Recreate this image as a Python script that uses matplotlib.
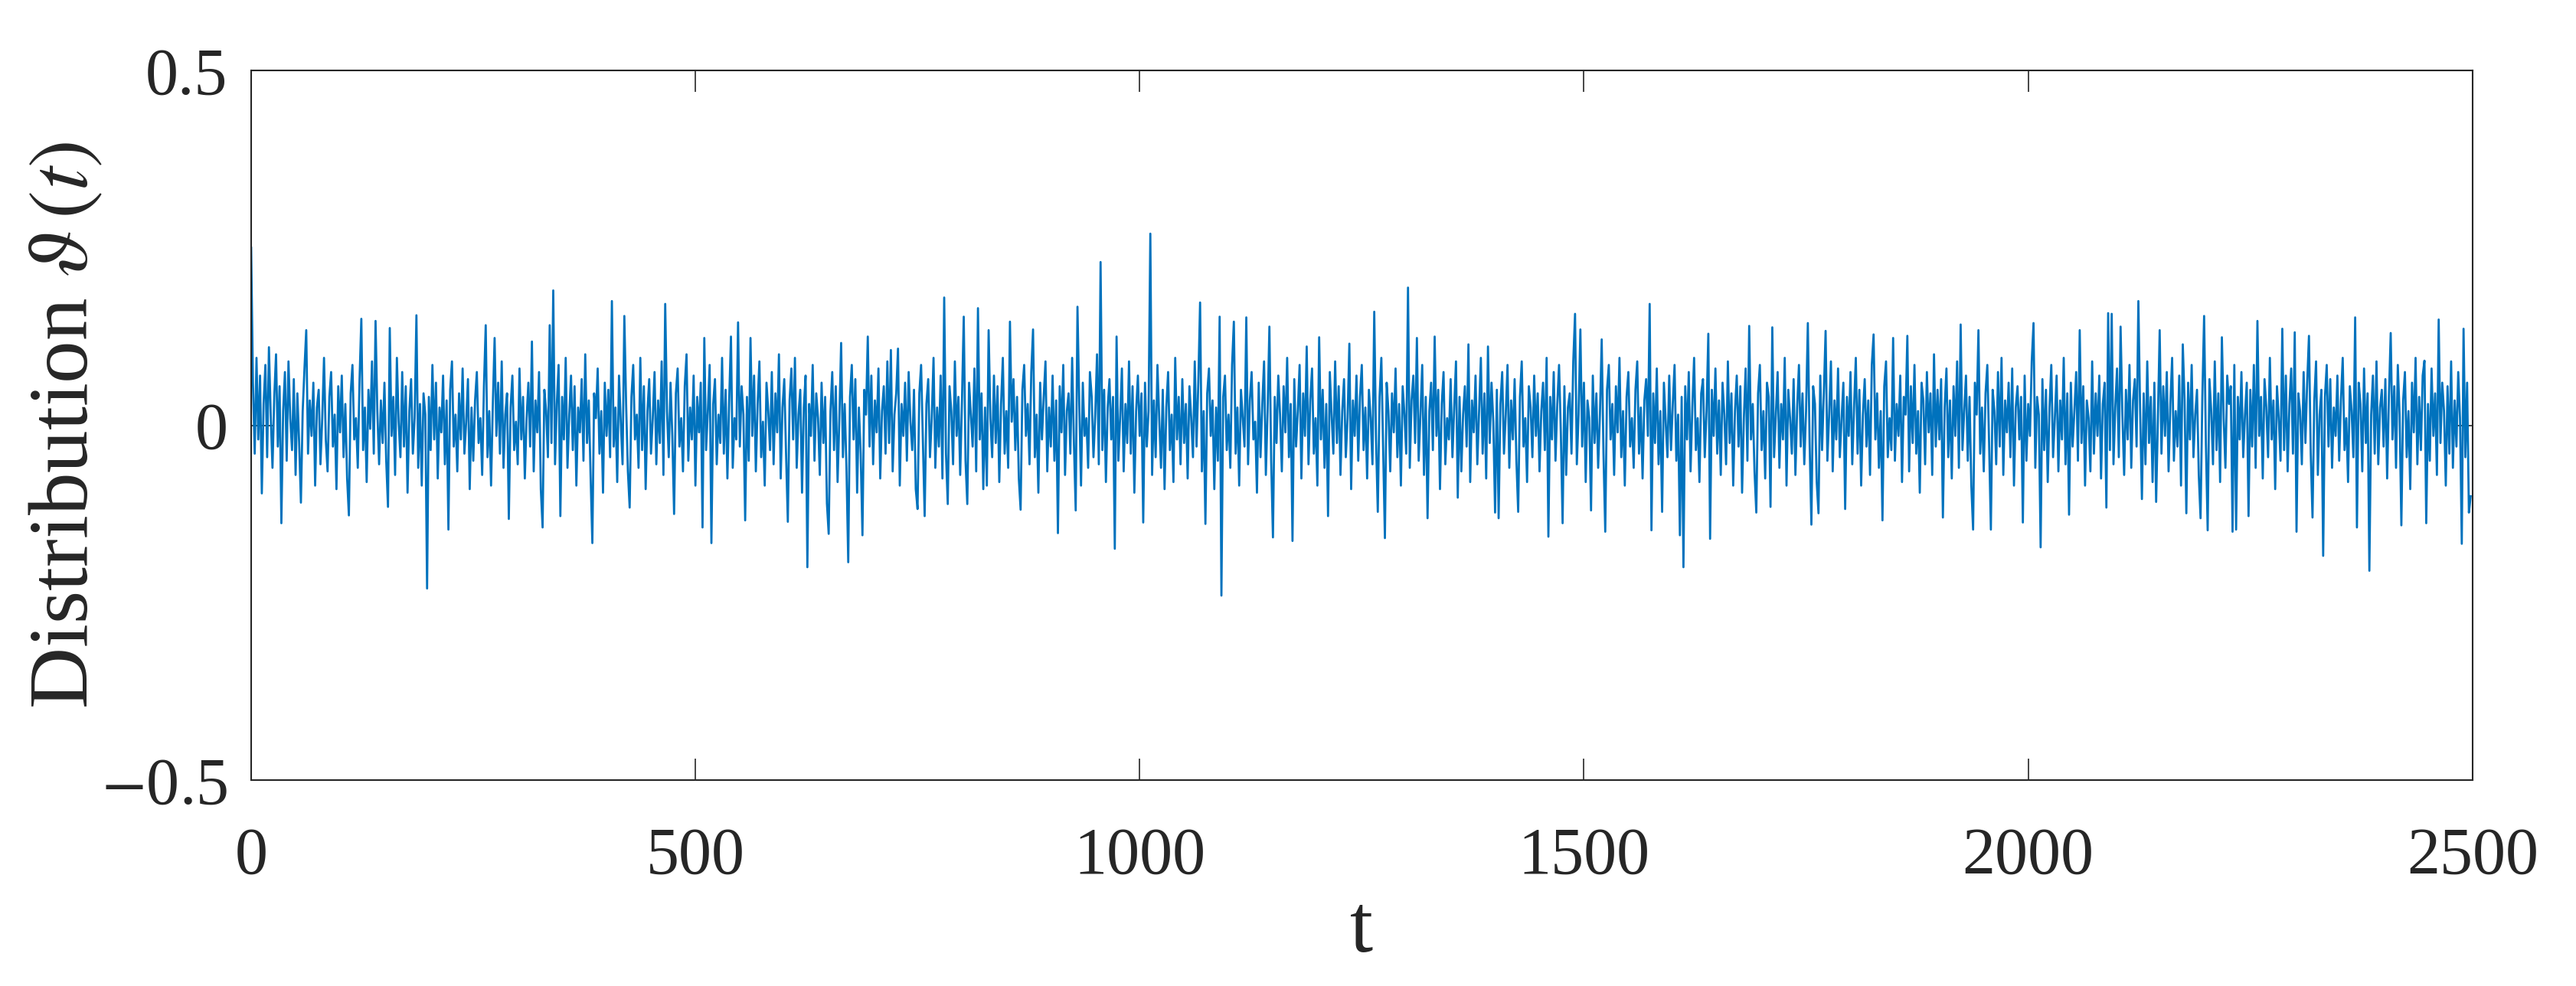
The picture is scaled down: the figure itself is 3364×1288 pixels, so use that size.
import numpy as np
import matplotlib
matplotlib.use("Agg")
import matplotlib.pyplot as plt

theta_milli = [
    250, 60, -40, 95, -20, 70, -96, 30, 85, -45, 110, 15, -60, 40, 100, -30, 55, -138, 20, 75, -50, 90, 10, -35, 65,
    -70, 45, -25, -109, 20, 80, 134, -40, 35, -15, 60, -85, 25, 50, -55, 10, 95, -20, -65, 40, 75, -30, 15, -90, 55,
    -10, 70, -45, 30, -75, -127, 45, 85, -20, 10, -60, 65, 150, -35, 25, -80, 50, -5, 90, -40, 147, 20, -55, 35, -25,
    60, -50, -115, 137, -15, 40, -70, 95, 5, -45, 75, -30, 55, -95, 20, 65, -40, 10, 155, -60, 30, -85, 45, 15, -230,
    40, -35, 85, -20, 60, -75, 25, -10, 70, -55, 35, -147, 50, 90, -30, 15, -65, 45, -20, 80, -40, 5, 65, -90, 25,
    -50, 35, 75, -25, 10, -70, 55, 141, -45, 20, -85, 30, 123, -15, 60, -40, 90, -60, 15, 45, -132, 25, 70, -35, 5,
    -55, 80, -20, 40, -75, 10, 60, -30, 118, -65, 35, -10, 75, -90, -144, 50, 20, -45, 141, -25, 190, -55, 30, 85, -128,
    40, -20, 95, -60, 15, 70, -35, 55, -85, 25, -10, 65, -50, 100, -25, 35, -70, -166, 45, 10, 80, -40, 20, -95, 60,
    -15, 50, -45, 175, -30, 25, -80, 70, 5, -55, 154, 30, -65, -116, 40, 85, -20, 15, -60, 95, -35, 55, -90, 20, 65,
    -40, 10, 75, -55, 35, -25, 90, -70, 171, 20, -45, 60, -15, -125, 45, 80, -30, 10, -65, 55, 100, -50, 25, -20, 70,
    -85, 40, -10, 60, -144, 123, -35, 20, 85, -166, 30, 65, -55, 15, -25, 95, -40, 50, -75, 35, 125, -60, 10, -20, 145,
    -30, 55, 15, -134, 40, -50, 123, -15, 70, -65, 30, 90, -45, 5, -85, 60, 20, -35, 75, -55, 45, -10, 100, -75, 25,
    65, -40, -136, 35, 80, -20, 95, -60, 15, 50, -95, 25, 70, -200, 30, -15, 85, -50, 45, 10, -70, 60, -25, 40, -110,
    -153, 20, 75, -35, 55, -80, 10, 116, -45, 30, -60, -193, 40, 85, -20, 65, -95, 25, -40, -155, 50, 15, 125, -30, 70,
    -55, 35, -10, 80, -75, 20, 55, -40, 90, -25, 106, -65, 15, 45, 108, -85, 30, -15, 60, -50, 75, 5, -35, 50, -90,
    -118, 45, 85, -20, -128, 30, 65, -45, 10, 95, -60, 25, -30, 70, -75, 180, -40, -111, 55, 20, -55, 90, -15, 40, -70,
    35, 153, -50, -111, 60, 15, -30, 80, -65, 165, -20, 45, -90, 25, -85, 134, 10, -45, 70, -25, 55, -80, 30, 95, -40,
    20, -60, 146, 5, 65, -35, 40, -75, -119, 50, 85, -15, 30, -55, 75, 135, -45, 15, -95, 60, -20, 40, 90, -65, 25,
    -30, 70, -50, 35, -152, 55, -10, 85, -70, 20, 45, -40, 95, -25, -120, 167, 30, -85, 60, -15, 10, -60, 75, 40, -45,
    15, 100, -55, 230, -35, 50, -80, 25, 65, -20, 40, -174, 125, -50, 10, 80, -65, 30, -25, 90, -40, 55, -95, 20, 70,
    -15, 45, -137, 60, -30, 20, 270, -70, 35, -45, 85, 10, -60, 50, -90, 25, 75, -35, 15, -80, 95, -20, 40, -55, 65,
    -25, 30, -75, 55, 10, -45, 90, -30, 60, 173, -65, 20, -139, 45, 80, -15, 35, -90, 25, -50, 153, -240, 40, 70, -35,
    15, -60, 85, 146, -40, 25, -85, 50, 10, -30, 152, -55, 35, 75, -20, 5, -95, 60, -45, 30, 90, -70, 20, 139, -50,
    -158, 40, -25, 70, 15, -65, 55, -10, 95, -45, 30, -163, 65, -30, 20, 85, -75, 45, -15, 111, -55, 35, 80, -40, 10,
    -85, 124, -20, 50, -60, 30, -128, 75, 15, -40, 90, -25, 55, -70, 20, 65, -45, 10, 115, -90, 35, -15, 70, -50, 40,
    85, -35, 25, -75, 50, 10, -55, 160, -20, -122, 40, 95, -30, -159, 60, 20, -65, 45, -10, 80, -45, 30, -85, 55, 15,
    -40, 194, -60, 35, 70, -25, 123, -50, 15, 85, -70, 40, -131, 20, 60, -35, 125, -15, 50, -90, 30, 75, -55, 10, -20,
    65, -45, 25, 90, -102, 40, -65, 15, 55, -30, 114, -80, 35, -10, 70, -55, 20, 95, -40, 45, -75, 111, -25, 60, 5,
    -123, 50, -131, 30, 75, -40, 15, 85, -60, 35, -20, 65, -50, -122, 40, 90, -30, 10, -80, 55, 25, -45, 70, -15, 45,
    -65, 20, 60, -35, 95, -157, 40, -20, 75, -50, 30, 85, -10, -138, 55, -70, 25, 45, -40, 90, 157, -55, 15, 135, -30,
    60, -80, 35, 10, -120, 70, -25, 45, -60, 15, 121, -40, -150, 50, 85, -20, 30, -70, 55, -10, 95, -45, 20, -85, 40,
    75, -30, 10, -60, 50, 90, -40, 25, -75, 35, 65, -15, 171, -148, 45, -25, 80, -55, 20, -122, 60, 5, -45, 70, -35,
    30, 85, -50, 15, -155, 40, -200, 55, -20, 75, -65, 25, 95, -35, 10, -80, 45, 65, -45, 20, 129, -160, 50, -15, 80,
    -40, 35, -70, 60, 15, -55, 90, -25, 45, -85, 20, 70, -30, 55, -95, 10, 80, -50, 140, -20, 30, -65, -123, 45, 85,
    -35, 20, -75, 60, 40, -115, 138, -45, 15, 75, -60, 30, -20, 95, -85, 50, 10, -40, 65, -70, 25, 85, -30, 45, -55,
    20, 144, -25, -140, 55, 30, -80, -124, 70, -35, 45, 133, -50, 15, 90, -65, 35, -20, 80, -45, 10, 60, -118, 40, -15,
    75, -55, 25, 95, -40, 50, -85, 15, 65, -30, 35, -70, 85, 128, -20, 45, -60, 20, -134, 55, 90, -45, 10, -35, 123,
    -50, 30, -15, 70, -80, 40, 15, 126, -65, 55, -25, 85, -40, 20, -95, 60, 35, -55, 75, -10, 45, -70, 100, -30, 50,
    -20, 65, -130, 25, 80, -45, 35, -75, 55, -15, 90, -60, 142, -35, 20, 70, -50, 40, -85, -147, 60, 15, 134, -40, 25,
    -65, 45, 85, -25, -147, 50, 20, -55, 75, -30, 95, -70, 35, -10, 60, -45, 80, -85, 25, 55, -20, 40, -137, 70, -50,
    30, -15, 90, 144, -60, 40, 15, -172, 65, -35, 50, -80, 25, 85, -45, 10, 70, -65, 35, -20, 95, -55, 45, -126, 60,
    -30, 20, 75, -50, 134, -25, 55, -85, 35, 10, -65, 90, -40, 45, -15, 70, -75, 30, 60, -116, 158, -35, 157, -55, 25,
    80, -45, 139, 15, -70, 50, -20, 85, -60, 35, 65, -30, 175, 20, -104, 45, -55, 90, -25, 40, -80, 60, -108, 10, 134,
    -40, 55, -15, 75, -65, 30, 95, -50, 20, -30, 70, -85, 114, 35, -124, 60, -20, 85, -45, 15, 50, -70, -131, 40, 154,
    -25, -148, 65, 20, -55, 90, -35, 45, -80, 124, 10, -60, 70, 30, 55, -150, 85, -147, 40, -20, 75, -45, 15, 60, -128,
    50, -30, 85, -60, 147, -15, 40, -75, 65, 25, -45, 95, -20, 35, -90, 55, 10, -50, 136, -35, 70, -65, 30, 80, -40,
    131, -150, 45, 20, -55, 75, -25, 60, 126, -40, -130, 35, 90, -70, 15, 50, -184, 40, 85, -30, 65, -60, 25, -15, 70,
    -50, 35, 95, -35, 10, -80, 55, 20, -45, 152, -144, 60, 30, -65, 80, -25, 45, -205, 15, 70, -40, 90, -55, 25, 50,
    -30, 65, -75, 40, 130, -20, 55, -60, 85, 15, -141, 35, 75, -45, 20, -90, 60, -10, 95, -55, 40, -35, 70, 91, -138,
    30, -50, 80, -15, 45, -70, 149, -25, 60, 20, -85, 55, -40, 90, -60, 35, -30, 75, 10, -167, 136, -45, 60, -123, -100,
]
t_step = 2
x_ticks = [0, 500, 1000, 1500, 2000, 2500]
y_ticks = [-0.5, 0, 0.5]
y_tick_labels = ["$-$0.5", "0", "0.5"]

theta = np.array(theta_milli) / 1000.0
t = np.arange(len(theta)) * t_step

plt.rcParams["font.family"] = ["Liberation Serif", "DejaVu Serif"]
plt.rcParams["mathtext.fontset"] = "stix"

dark = "#262626"
fig = plt.figure(figsize=(33.64, 12.88), dpi=100)
ax = fig.add_axes([0.0975, 0.2088, 0.8623, 0.7198])
ax.plot(t, theta, color="#0072BD", linewidth=2.0)

ax.set_xlim(0, 2500)
ax.set_ylim(-0.5, 0.5)
ax.set_xticks(x_ticks)
ax.set_yticks(y_ticks)
ax.set_yticklabels(y_tick_labels)
ax.tick_params(direction="in", length=20, width=1.2, colors=dark, labelsize=62,
               top=True, right=True)
ax.tick_params(axis="x", pad=44)
ax.tick_params(axis="y", pad=22)
for s in ax.spines.values():
    s.set_color(dark)
    s.set_linewidth(1.5)

ax.set_xlabel("t", fontsize=78, color=dark, labelpad=6)
ax.set_ylabel(r"Distribution $\vartheta\,(t)$", fontsize=80, color=dark, labelpad=-4)

fig.savefig("out.png", dpi=100, facecolor="white")
